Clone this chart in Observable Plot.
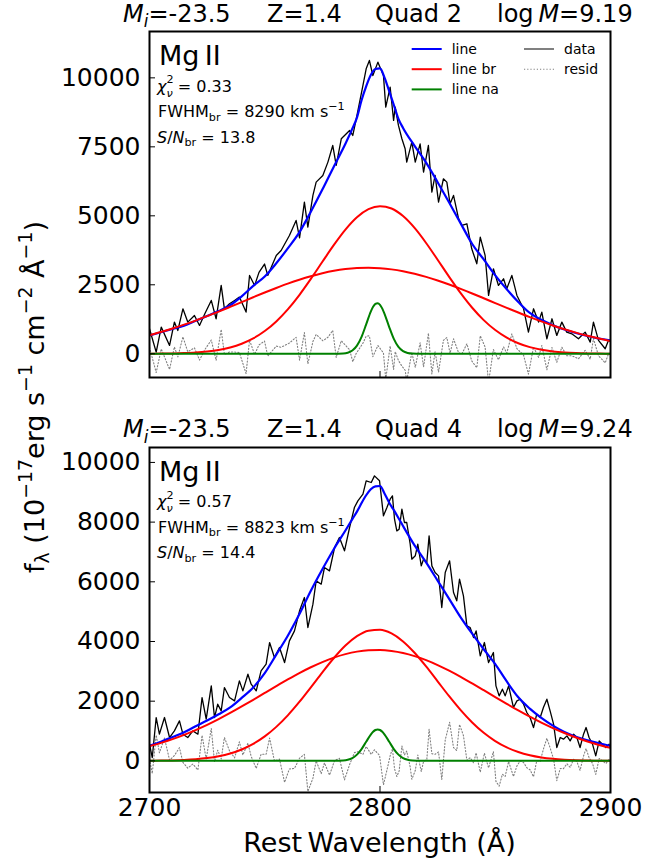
<!DOCTYPE html>
<html>
<head>
<meta charset="utf-8">
<script src="https://cdn.jsdelivr.net/npm/d3@7"></script>
<script src="https://cdn.jsdelivr.net/npm/@observablehq/plot@0.6"></script>
<style>
  html, body { margin: 0; padding: 0; background: #fff; }
  #fig { position: relative; width: 667px; height: 864px; overflow: hidden; }
  #fig > svg { position: absolute; left: 0; display: block; max-width: none; }
</style>
</head>
<body>
<div id="fig"></div>
<script>
// ---------------- data ----------------
const xTicks = [2700, 2800, 2900];
const topYTicks = [0, 2500, 5000, 7500, 10000];
const botYTicks = [0, 2000, 4000, 6000, 8000, 10000];

// wavelength grid of the broad components
const compWave = [2700,2705,2710,2715,2720,2725,2730,2735,2740,2745,2750,2755,2760,2765,2770,2775,2780,2785,2790,2795,
                  2800,2805,2810,2815,2820,2825,2830,2835,2840,2845,2850,2855,2860,2865,2870,2875,2880,2885,2890,2895,2900];
// wavelength grid of the total line model
const lineWave = [2700,2705,2710,2715,2720,2725,2730,2735,2740,2745,2750,2755,2760,2765,2770,2775,2780,2785,
                  2788,2790,2792,2794,2796,2798,2800,2802,2804,2806,2808,2810,
                  2815,2820,2825,2830,2835,2840,2845,2850,2855,2860,2865,2870,2875,2880,2885,2890,2895,2900];
// wavelength grid of the narrow component
const naWave = [2700,2780,2784,2786,2788,2790,2792,2794,2796,2797,2798,2799,2800,2801,2802,2804,2806,2808,2810,2812,2814,2818,2900];

// ----- top panel (Quad 2) -----
const topLine = [664,780,900,1020,1195,1370,1550,1760,2080,2460,2800,3280,3820,4400,5150,5950,6790,7610,
                 8160,8560,9190,9690,10100,10320,10340,10000,9516,9016,8516,8183,
                 7536,6927,6219,5481,4726,3979,3418,2839,2336,1879,1480,1232,1037,878,753,646,552,483];
const topBrWide = [674,789,916,1055,1203,1362,1527,1699,1873,2048,2220,2385,2542,2685,2812,2920,3007,3069,3106,3117,
                   3101,3059,2991,2900,2788,2658,2511,2353,2186,2013,1838,1664,1494,1329,1173,1026,890,765,652,552,462];
const topBrNarrow = [3,6,13,25,45,81,138,228,364,557,823,1173,1610,2129,2714,3333,3945,4500,4947,5241,
                     5351,5264,4991,4561,4016,3408,2787,2197,1668,1220,861,585,383,242,147,86,49,27,14,7,3];
const topNa = [0,0,10,38,117,294,616,1065,1526,1701,1808,1835,1775,1638,1441,969,539,248,95,30,8,0,0];

const topWave = [2700,2702.9,2705.1,2708.7,2710.8,2712.3,2714.5,2716.6,2719.5,2721.7,2724,2726.8,2728.9,2731.1,2732.5,
  2734.7,2736.9,2739,2741.9,2743.4,2745.6,2747.5,2749.9,2751.3,2755,2757.1,2760.7,2763.6,2765.1,2767.2,2768.7,2770.9,
  2772.3,2775.2,2777.4,2779.5,2781,2783.2,2786.8,2788.2,2789.7,2792.6,2794,2795.4,2796.9,2799.1,
  2801.5,2802.5,2804.4,2805.9,2806.6,2808,2809.5,2810.9,2811.6,2813.8,2815.3,2817.4,2818.9,2821,2822.5,2823.9,2825.4,
  2827.5,2829,2830.4,2831.9,2834.1,2835.5,2837.7,2839.8,2842,2843.5,2845.6,2847.1,2849.2,2851.4,2853.6,2855,2857.2,
  2859.4,2862.3,2864.4,2866.6,2868.8,2870.2,2872.4,2874.6,2876.7,2878.9,2881,2883.2,2886.1,2889,2891.2,2892.6,2894.8,
  2897.7,2899.1];
const topFlux = [906,60,966,302,1148,845,1630,1148,1390,1027,1450,1933,1268,2476,1630,
  1812,1933,2054,1510,2839,2476,2950,3252,2839,3564,3745,4288,4832,4200,5496,4590,5738,
  6221,6462,6946,7550,6825,7792,8093,7912,8516,9724,10328,10630,10086,10570,
  10087,8939,9664,8456,8939,8275,7792,7429,6946,7671,6946,7610,6584,7550,5859,6463,5496,
  6342,6221,5436,5738,4892,4651,4711,3805,3262,4228,3564,2114,3080,2476,2718,2356,2839,
  2114,1631,785,1631,1148,1510,544,1268,664,1148,785,725,544,785,423,1148,483,
  181,483];
const topResid = [236,-680,176,-568,248,-115,615,73,215,-228,150,498,-242,881,-25,
  62,63,44,-720,494,-24,320,462,-81,279,235,388,597,-230,766,-365,443,
  701,472,596,845,-130,472,148,-288,16,384,638,650,-104,300,
  27,-921,284,-569,79,-245,-448,-596,-979,51,-494,400,-476,745,-731,78,-669,
  487,591,16,543,37,-9,361,-260,-508,653,244,-1036,155,-219,248,26,719,
  189,-54,-740,241,-132,300,-581,228,-306,238,-70,-70,-184,125,-197,553,-72,
  -329,-7];

// ----- bottom panel (Quad 4) -----
const botLine = [503,640,800,960,1160,1350,1560,1790,2110,2460,2940,3560,4190,4910,5700,6420,7100,7720,
                 8100,8350,8640,8900,9100,9200,9210,8950,8650,8400,8140,7870,
                 7220,6650,6040,5430,4810,4260,3740,3240,2660,2130,1750,1440,1180,970,810,690,590,500];
const botBrWide = [493,602,727,870,1030,1206,1398,1604,1822,2047,2277,2505,2728,2941,3137,3311,3460,3576,3660,3705,
                   3713,3682,3614,3510,3374,3210,3021,2815,2595,2368,2138,1911,1690,1479,1281,1098,932,782,650,534,435];
const botBrNarrow = [4,9,16,30,54,93,154,247,382,570,820,1139,1526,1974,2464,2966,3446,3864,4179,4362,
                     4393,4270,4003,3622,3163,2665,2166,1699,1286,939,662,450,295,187,114,67,38,21,11,6,3];
const botNa = [0,0,12,36,94,209,396,640,881,974,1034,1055,1034,974,881,640,396,209,94,36,12,0,0];

const botWave = [2700,2701.2,2702.9,2704.3,2706.5,2708.7,2710.8,2713,2714.5,2716.6,2718.8,2721,2722.8,2724.6,2726.8,
  2728.2,2729.6,2731.1,2732.5,2734.7,2736.9,2739,2740.5,2742.7,2744.1,2746.3,2748.4,2750.6,2752.1,2754.2,2756.4,2758.6,
  2760.7,2762.9,2765.1,2767.2,2768.7,2770.9,2772.3,2774.5,2775.9,2778.1,2780.3,2782.4,2784.6,2786.8,2788.9,2790.4,
  2792.6,2794,2796.2,2797.6,2799.8,
  2801.5,2803,2804.4,2805.4,2806.3,2807.3,2808.3,2809.5,2810.6,2811.6,2813.1,2813.8,2815.3,2816.4,2817.9,2818.9,2820.3,
  2821.3,2822.5,2823.9,2825.4,2826.8,2828.3,2830.2,2831.9,2833.3,2834.5,2836.2,2837.7,2839.1,2840.6,2841.7,2843.5,
  2845.3,2847.1,2849.2,2850.3,2851.7,2853.1,2854.3,2855.8,2857.9,2859.4,2860.8,2862.3,2863.7,2865.1,2866.6,2868,
  2869.5,2870.9,2872.4,2873.8,2875.3,2876.7,2878.2,2879.6,2881.1,2882.5,2884,2885.4,2886.8,2888.3,2889.4,2890.7,
  2892.2,2893.6,2895.1,2896.5,2898,2899.4];
const botFlux = [559,112,1452,894,1452,782,1005,1340,894,782,1005,894,2122,1396,2513,
  1452,1899,1676,2457,2122,2011,2681,2346,2904,2569,2346,3016,3239,3965,3463,3798,3295,
  4021,4356,5027,5473,4468,5250,6032,5920,6479,6367,7149,7484,7037,7819,8489,8713,
  8936,9383,9327,9550,9383,
  8210,8489,8768,8880,8098,7707,7763,8433,7987,7987,7261,6758,6870,7261,6534,6758,6646,
  7540,6534,6311,6199,5138,6311,6702,5641,5362,6088,5529,4524,4468,4133,4356,3519,
  3965,3295,3630,2513,2178,2402,2178,2513,1787,2011,2066,1899,1620,1452,1117,1564,
  1452,1787,2066,1676,1229,447,782,726,838,670,894,782,447,894,1117,782,
  559,168,670,559,447,559];
const botResid = [56,-425,867,271,766,24,179,442,-54,-242,-107,-304,857,62,1089,
  -32,356,66,783,340,102,636,198,591,151,-253,220,224,762,-2,58,-720,
  -271,-254,92,217,-1024,-580,-2,-430,-67,-477,12,84,-635,-125,277,305,
  218,483,217,370,183,
  -800,-311,168,405,-262,-523,-337,498,197,327,-204,-617,-325,196,-356,-17,36,
  1060,239,221,299,-622,701,1292,446,347,1218,849,14,108,-67,271,-376,
  255,-235,310,-687,-847,-448,-522,-22,-523,-169,-4,-56,-230,-298,-533,4,
  -18,397,756,436,59,-663,-258,-259,-97,-220,54,-18,-318,164,412,107,
  -86,-452,80,-1,-88,49];

// ---------------- drawing ----------------
const FONT = "DejaVu Sans";
const zip = (xs, ys) => xs.map((x, i) => ({x, y: ys[i]}));

function panel(o) {
  return Plot.plot({
    width: 667, height: o.height,
    marginLeft: 149, marginRight: 57, marginTop: o.marginTop, marginBottom: o.marginBottom,
    x: {domain: [2700, 2900]},
    y: {domain: o.yDomain},
    style: {fontFamily: FONT, background: "transparent", color: "black"},
    marks: [
      Plot.line(zip(o.wave, o.resid), {x: "x", y: "y", stroke: "#808080", strokeWidth: 1.1, strokeDasharray: "1.2,2", clip: true}),
      Plot.line(zip(o.wave, o.flux), {x: "x", y: "y", stroke: "black", strokeWidth: 1.3, clip: true}),
      Plot.line(zip(lineWave, o.line), {x: "x", y: "y", stroke: "#0000ff", strokeWidth: 2.2, curve: "monotone-x", clip: true}),
      Plot.line(zip(compWave, o.brWide), {x: "x", y: "y", stroke: "#ff0000", strokeWidth: 2, curve: "monotone-x", clip: true}),
      Plot.line(zip(compWave, o.brNarrow), {x: "x", y: "y", stroke: "#ff0000", strokeWidth: 2, curve: "monotone-x", clip: true}),
      Plot.line(zip(naWave, o.na), {x: "x", y: "y", stroke: "#008000", strokeWidth: 2, curve: "monotone-x", clip: true}),
      Plot.axisY({ticks: o.yTicks, tickSize: -6, fill: "none", label: null, strokeWidth: 1}),
      Plot.axisY({ticks: o.yTicks, tickSize: 0, tickPadding: 9, fontSize: 25, tickFormat: d => String(d), label: null}),
      Plot.axisX({ticks: xTicks, tickSize: -6, fill: "none", label: null, strokeWidth: 1}),
      o.showX ? Plot.axisX({ticks: xTicks, tickSize: 0, tickPadding: 6, fontSize: 25, tickFormat: d => String(d), label: null}) : null,
      Plot.frame({stroke: "black", strokeWidth: 2})
    ]
  });
}

const fig = document.getElementById("fig");
const p1 = panel({height: 400, marginTop: 31, marginBottom: 23, yDomain: [-860, 11680], yTicks: topYTicks,
  wave: topWave, flux: topFlux, resid: topResid, line: topLine, brWide: topBrWide, brNarrow: topBrNarrow, na: topNa, showX: false});
p1.style.top = "0px";
fig.appendChild(p1);

const p2 = panel({height: 464, marginTop: 47, marginBottom: 72, yDomain: [-1060, 10500], yTicks: botYTicks,
  wave: botWave, flux: botFlux, resid: botResid, line: botLine, brWide: botBrWide, brNarrow: botBrNarrow, na: botNa, showX: true});
p2.style.top = "400px";
fig.appendChild(p2);

const outer = d3.select(fig).append("svg")
  .attr("width", 667).attr("height", 864).attr("viewBox", "0 0 667 864")
  .style("top", "0px").style("pointer-events", "none")
  .style("font-family", FONT);

// rich text helper: parts with italic / superscript / subscript
function rich(x, y, size, parts, opts = {}) {
  const t = outer.append("text").attr("x", x).attr("y", y).attr("font-size", size).attr("fill", "black");
  if (opts.transform) t.attr("transform", opts.transform);
  if (opts.anchor) t.attr("text-anchor", opts.anchor);
  let cur = 0;
  for (const p of parts) {
    const fs = size * (p.s || 1);
    let target = 0;
    if (p.sup) target = -size * (p.supShift || 0.42);
    if (p.sub) target = size * (p.subShift || 0.22);
    const ts = t.append("tspan").text(p.t).attr("font-size", fs).attr("dy", target - cur);
    if (p.dx) ts.attr("dx", p.dx);
    if (p.i) ts.attr("font-style", "italic");
    cur = target;
  }
  return t;
}

// panel titles
function title(y, quad, logM) {
  rich(123, y, 24, [{t: "M", i: true}, {t: "i", i: true, sub: true, s: 0.7}, {t: "=-23.5"}]);
  rich(267, y, 24, [{t: "Z=1.4"}]);
  rich(375, y, 24, [{t: "Quad " + quad}]);
  rich(497, y, 24, [{t: "log\u2009"}, {t: "M", i: true}, {t: "=" + logM}]);
}
title(21.6, 2, "9.19");
title(437.3, 4, "9.24");

// in-panel annotations
function notes(top, chi, fwhm, sn) {
  rich(159, top + 34, 27, [{t: "Mg\u2009II"}]);
  rich(157, top + 60.5, 16, [{t: "\u03c7", i: true}, {t: "2", sup: true, s: 0.7, supShift: 0.53},
    {t: "\u03bd", i: true, sub: true, s: 0.7, dx: -7.1, subShift: 0.33}, {t: " = " + chi}]);
  rich(158, top + 86, 16, [{t: "FWHM"}, {t: "br", sub: true, s: 0.7}, {t: " = " + fwhm + " km s"}, {t: "\u22121", sup: true, s: 0.7}]);
  rich(157, top + 111.5, 16, [{t: "S", i: true}, {t: "/"}, {t: "N", i: true}, {t: "br", sub: true, s: 0.7}, {t: " = " + sn}]);
}
notes(31, "0.33", "8290", "13.8");
notes(446.7, "0.57", "8823", "14.4");

// legend (top panel)
const legendItems = [
  {label: "line", color: "#0000ff", dash: null, col: 0, row: 0},
  {label: "line br", color: "#ff0000", dash: null, col: 0, row: 1},
  {label: "line na", color: "#008000", dash: null, col: 0, row: 2},
  {label: "data", color: "#808080", dash: null, col: 1, row: 0},
  {label: "resid", color: "#808080", dash: "1.2,2", col: 1, row: 1}
];
const lg = outer.append("g").attr("font-size", 14);
for (const it of legendItems) {
  const x0 = it.col === 0 ? 411.7 : 524;
  const yc = 49 + it.row * 20.2;
  const ln = lg.append("line").attr("x1", x0).attr("x2", x0 + 30).attr("y1", yc).attr("y2", yc)
    .attr("stroke", it.color).attr("stroke-width", it.dash ? 1.1 : 2);
  if (it.dash) ln.attr("stroke-dasharray", it.dash);
  lg.append("text").attr("x", x0 + 40).attr("y", yc + 5).text(it.label);
}

// axis labels
rich(0, 0, 27, [{t: "f"}, {t: "\u03bb", sub: true, s: 0.7}, {t: " (10"}, {t: "\u221217", sup: true, s: 0.7},
  {t: "erg s"}, {t: "\u22121", sup: true, s: 0.7}, {t: " cm"}, {t: "\u22122", sup: true, s: 0.7},
  {t: " \u00c5"}, {t: "\u22121", sup: true, s: 0.7}, {t: ")"}],
  {anchor: "middle", transform: "translate(43.5,397) rotate(-90)"});
rich(379.5, 852, 27, [{t: "Rest\u2009Wavelength (\u00c5)"}], {anchor: "middle"});
</script>
</body>
</html>
